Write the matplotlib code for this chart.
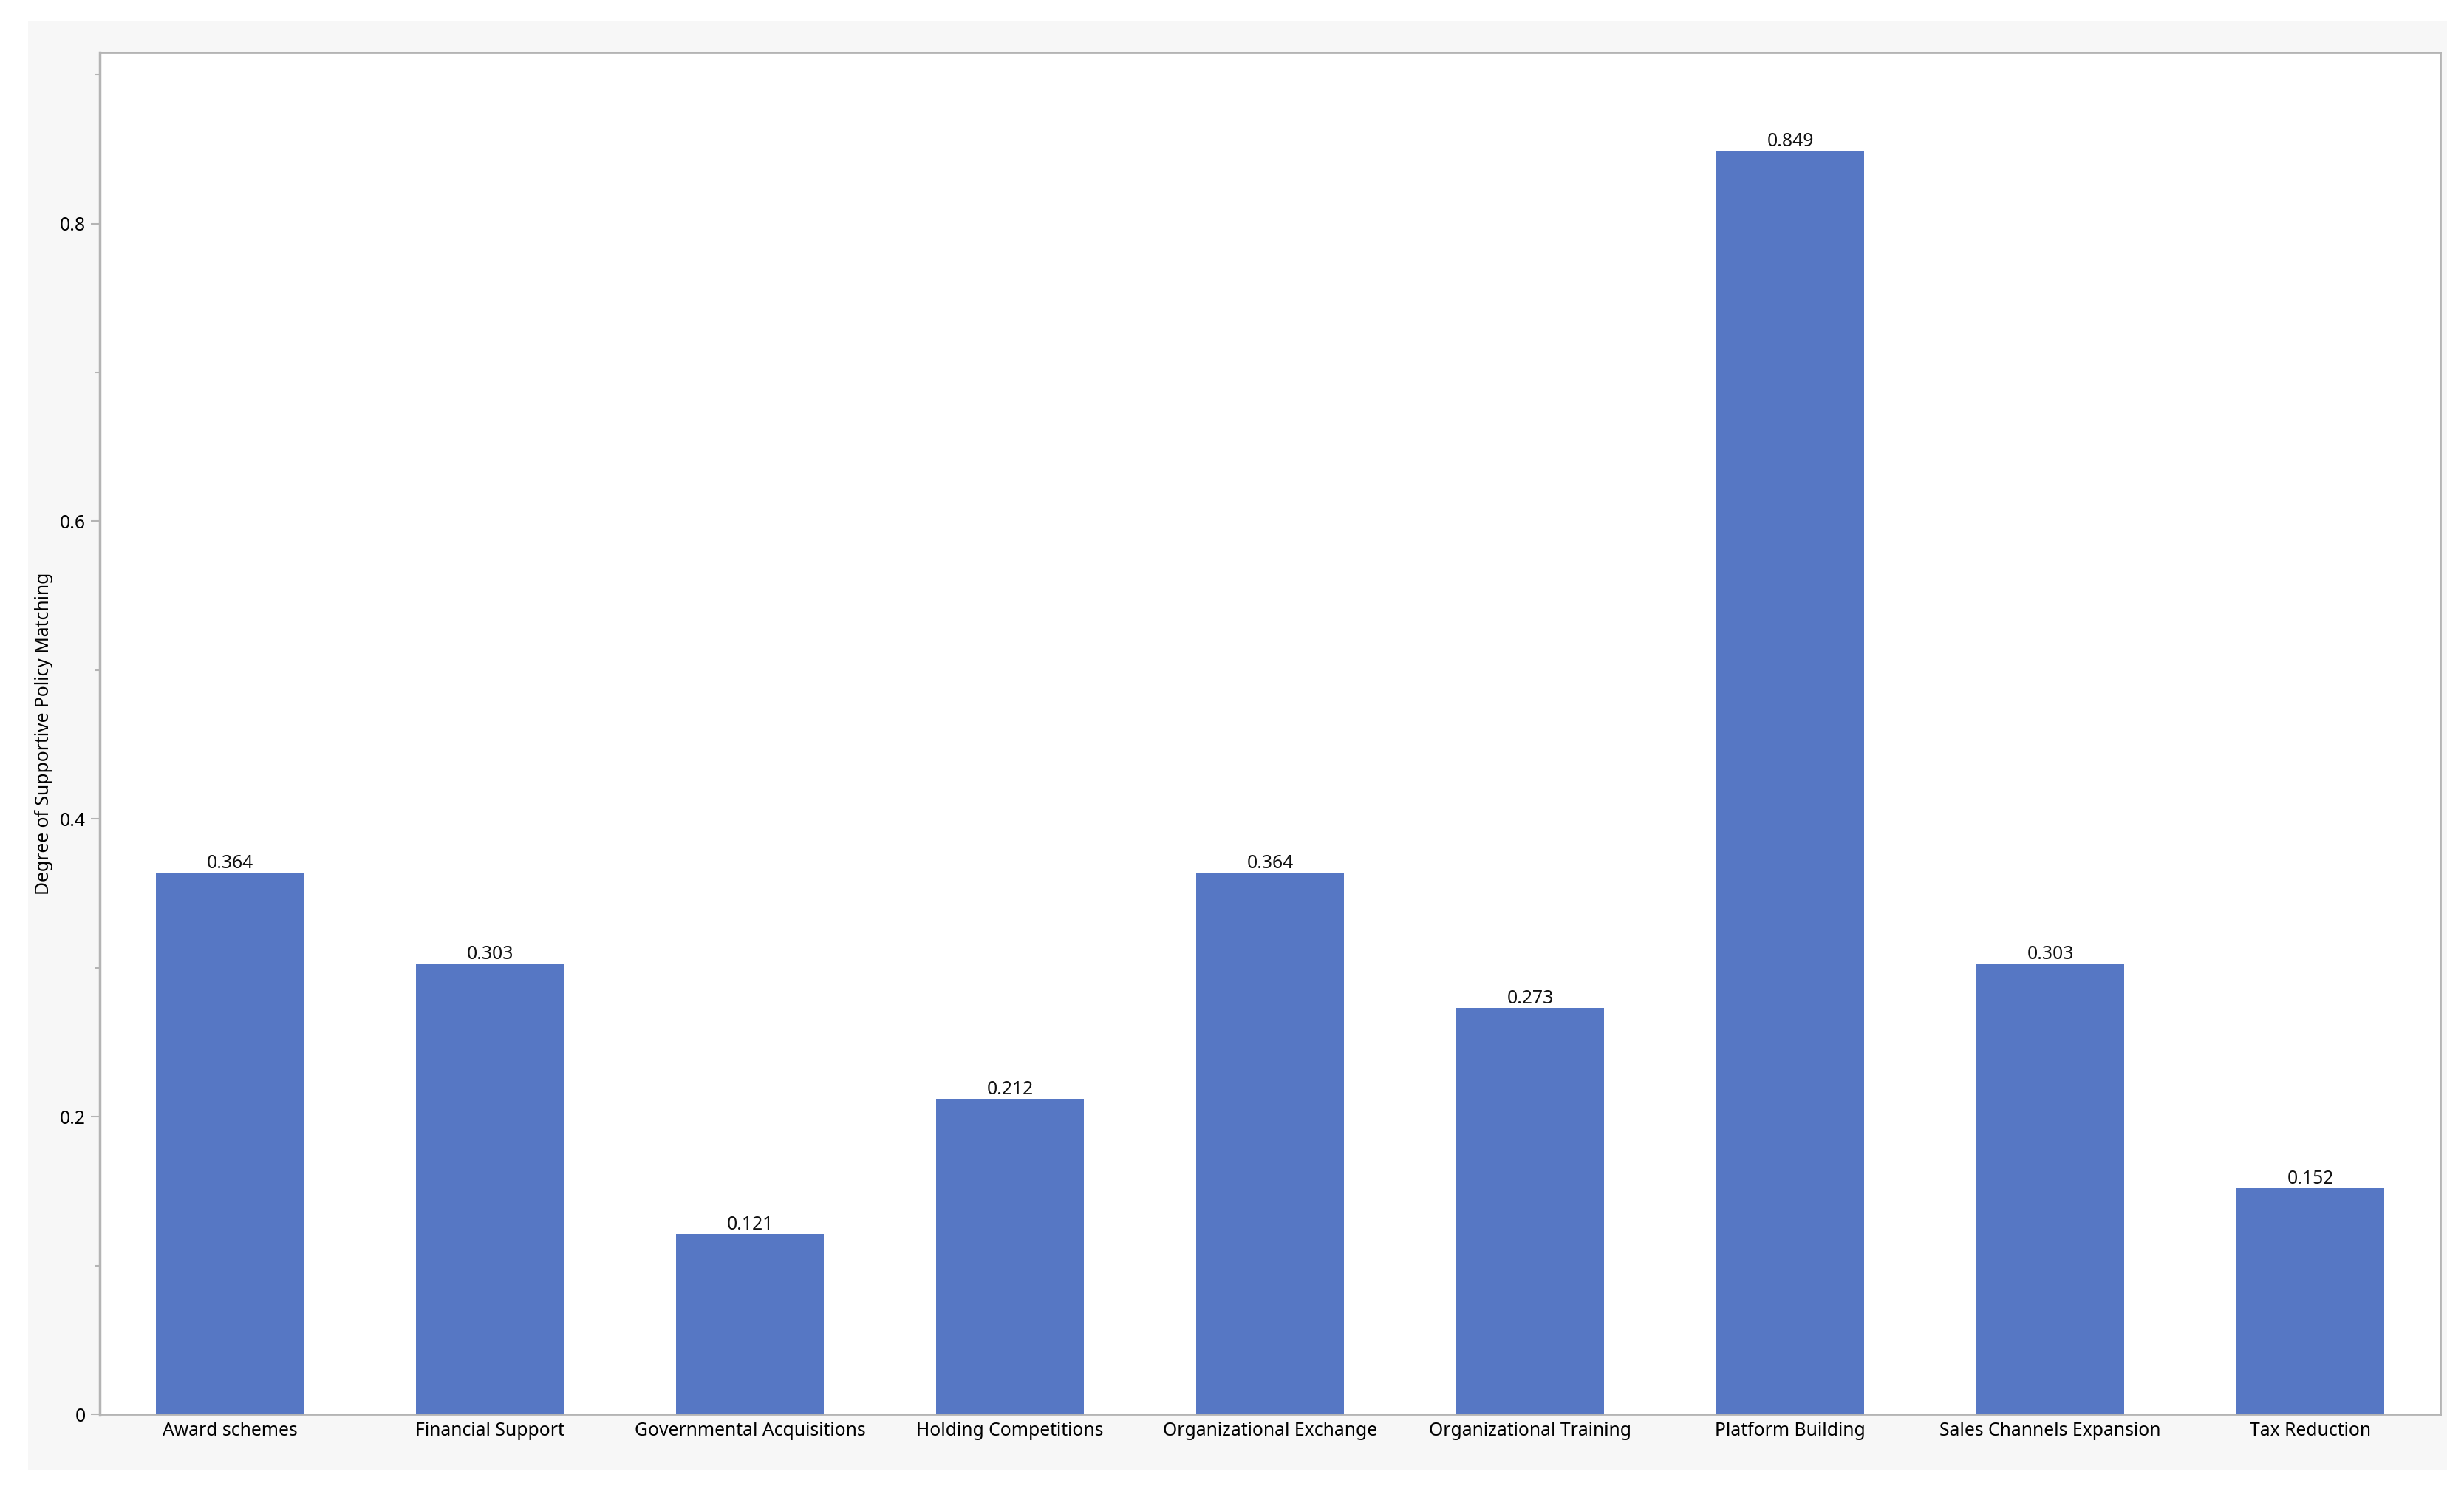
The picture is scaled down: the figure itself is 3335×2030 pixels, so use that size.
"""
Bar chart: degree of supportive policy matching per policy category.
"""

import matplotlib.pyplot as plt
import numpy as np
from matplotlib.ticker import MultipleLocator

# ── Data ──────────────────────────────────────────────────────────────────────
CATEGORIES = [
    "Award schemes",
    "Financial Support",
    "Governmental Acquisitions",
    "Holding Competitions",
    "Organizational Exchange",
    "Organizational Training",
    "Platform Building",
    "Sales Channels Expansion",
    "Tax Reduction",
]
VALUES = [0.364, 0.303, 0.121, 0.212, 0.364, 0.273, 0.849, 0.303, 0.152]
Y_LABEL = "Degree of Supportive Policy Matching"

# ── Style ─────────────────────────────────────────────────────────────────────
BAR_COLOR = "#5677C4"
SPINE_COLOR = "#b4b4b4"
PANEL_COLOR = "#f7f7f7"
FONT_SIZE = 17.8

plt.rcParams["font.family"] = ["Noto Sans", "DejaVu Sans"]

W, H = 3335, 2030
fig = plt.figure(figsize=(W / 100, H / 100), dpi=100)
fig.patch.set_facecolor("white")

# light grey frame behind the plot (separate background axes)
bg = fig.add_axes([38 / W, 1 - 1990 / H, (3312 - 38) / W, (1990 - 28) / H])
bg.set_facecolor(PANEL_COLOR)
bg.set_xticks([])
bg.set_yticks([])
for s in bg.spines.values():
    s.set_visible(False)
bg.set_zorder(-1)

ax = fig.add_axes([135 / W, 1 - 1914 / H, (3303 - 135) / W, (1914 - 71) / H])
ax.set_facecolor("white")

x = np.arange(len(CATEGORIES))
bars = ax.bar(x, VALUES, width=0.57, color=BAR_COLOR, zorder=2)

for rect, v in zip(bars, VALUES):
    ax.text(rect.get_x() + rect.get_width() / 2, v, f"{v:.3f}",
            ha="center", va="bottom", fontsize=FONT_SIZE, color="#111111")

ax.set_xlim(-0.5, len(CATEGORIES) - 0.5)
ax.set_ylim(0, 0.915)
ax.set_xticks(x)
ax.set_xticklabels(CATEGORIES, fontsize=FONT_SIZE)
ax.tick_params(axis="x", length=0, pad=7)

ax.yaxis.set_major_locator(MultipleLocator(0.2))
ax.yaxis.set_minor_locator(MultipleLocator(0.1))
ax.set_yticks([0, 0.2, 0.4, 0.6, 0.8])
ax.set_yticklabels(["0", "0.2", "0.4", "0.6", "0.8"], fontsize=FONT_SIZE)
ax.tick_params(axis="y", which="major", length=9, width=1.5,
               color=SPINE_COLOR, pad=5)
ax.tick_params(axis="y", which="minor", length=4, width=1.5,
               color=SPINE_COLOR)

ax.set_ylabel(Y_LABEL, fontsize=FONT_SIZE)
ax.yaxis.set_label_coords(-0.020, 0.5)

for side in ("left", "bottom", "top", "right"):
    ax.spines[side].set_color(SPINE_COLOR)
    ax.spines[side].set_linewidth(2)
ax.spines["left"].set_linewidth(2.5)

fig.savefig("out.png", dpi=100)
